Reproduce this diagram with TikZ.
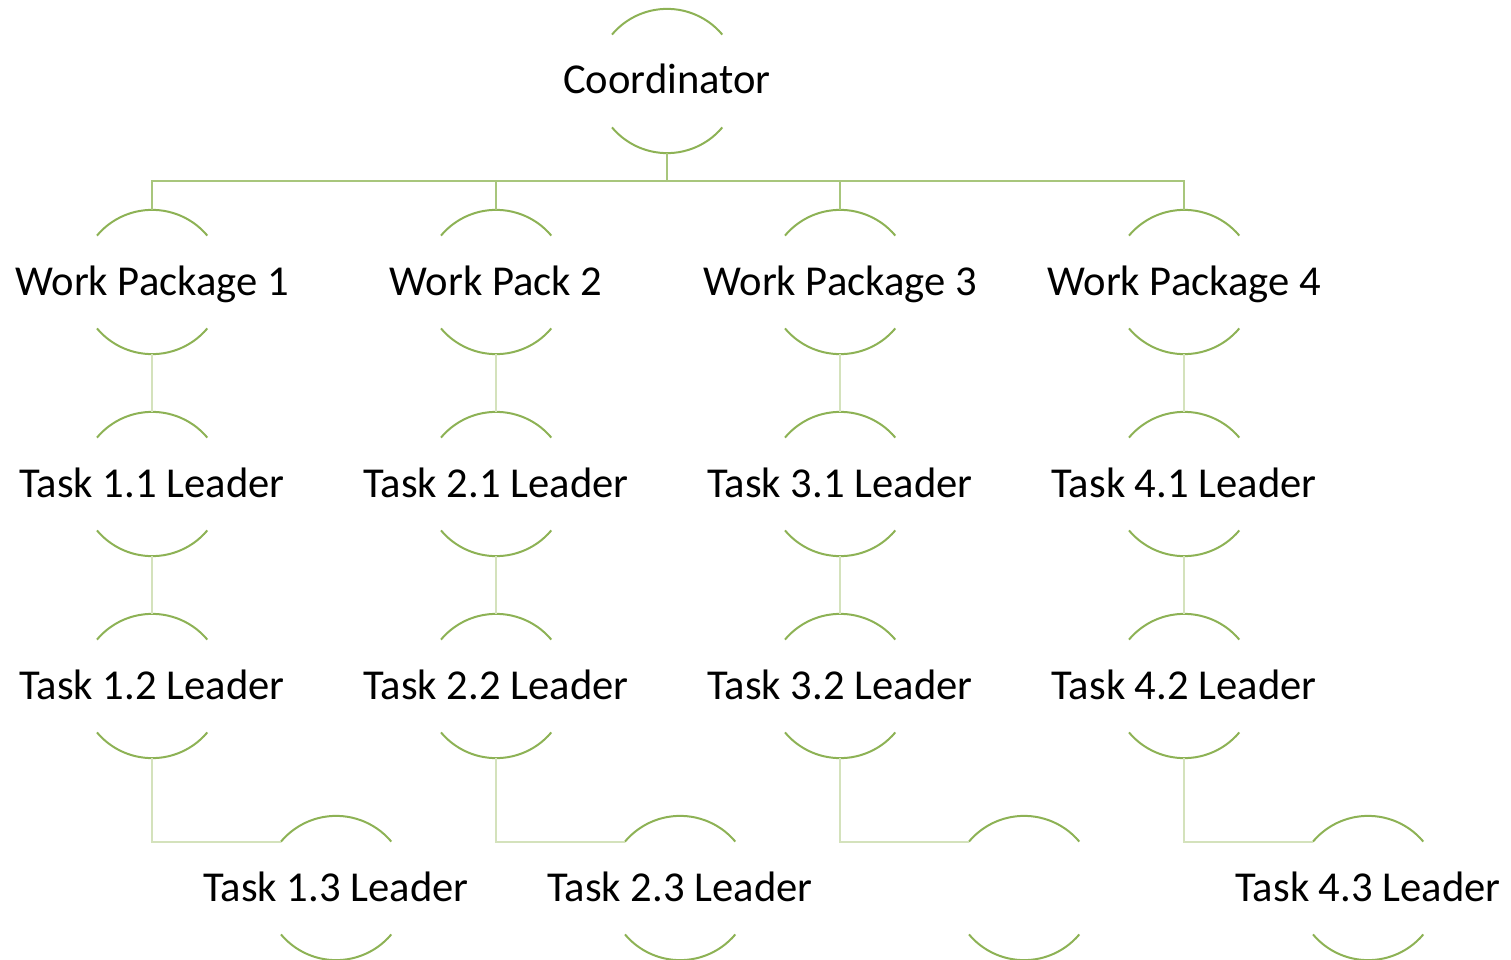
\documentclass[tikz,border=0pt]{standalone}
\usepackage{fontspec}
\setmainfont{Carlito}
\begin{document}
\begin{tikzpicture}[x=1pt,y=-1pt,
  hn/.style={circle, minimum size=144pt, inner sep=0pt},
  txt/.style={anchor=base, inner sep=0pt, font=\fontsize{42.6}{50}\selectfont, text=black},
  arcline/.style={draw=arcgreen, line width=2pt},
  topline/.style={draw=topgreen, line width=2.2pt},
  lowline/.style={draw=lowgreen, line width=2pt}]
\definecolor{arcgreen}{HTML}{8DB255}
\definecolor{topgreen}{HTML}{A8C67C}
\definecolor{lowgreen}{HTML}{D4E2BC}
\useasboundingbox (0,0) rectangle (1511,960);
% nodes
\node[hn] (c) at (667,81) {};
\node[txt] (cT) at ([yshift=-13pt]c.center) {Coordinator};
\foreach \i/\x/\w in {1/152/Work Package 1,2/496/Work Pack 2,3/840/Work Package 3,4/1184/Work Package 4}{
  \node[hn] (wp\i) at (\x,282) {};
  \node[txt] (wp\i T) at ([yshift=-13pt]wp\i.center) {\w};
  \node[hn] (t\i1) at (\x,484) {};
  \node[txt] (t\i1T) at ([yshift=-13pt]t\i1.center) {Task \i.1 Leader};
  \node[hn] (t\i2) at (\x,686) {};
  \node[txt] (t\i2T) at ([yshift=-13pt]t\i2.center) {Task \i.2 Leader};
  \node[hn] (t\i3) at (\x+184,888) {};
}
\foreach \i in {1,2,4}{
  \node[txt] (t\i3T) at ([yshift=-13pt]t\i3.center) {Task \i.3 Leader};
}
% arcs
\foreach \n in {c,wp1,wp2,wp3,wp4,t11,t12,t13,t21,t22,t23,t31,t32,t33,t41,t42,t43}{
  \draw[arcline] (\n.40) arc[start angle=40, end angle=140, radius=72pt];
  \draw[arcline] (\n.-40) arc[start angle=-40, end angle=-140, radius=72pt];
}
% connectors
\coordinate (bus) at (667,181);
\draw[topline] (c.south) -- (bus);
\foreach \i in {1,2,3,4}{
  \draw[topline] (wp\i.north) |- (bus);
  \draw[lowline] (wp\i.south) -- (t\i1.north);
  \draw[lowline] (t\i1.south) -- (t\i2.north);
  \draw[lowline] (t\i2.south) |- (t\i3.140);
}
\end{tikzpicture}
\end{document}
